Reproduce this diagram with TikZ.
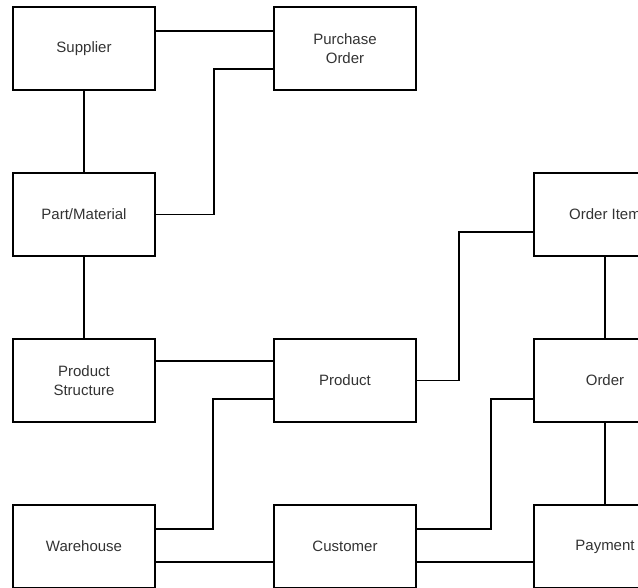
\documentclass[tikz,border=0pt]{standalone}
\usepackage{fontspec}
\setmainfont{Liberation Sans}
\begin{document}
\begin{tikzpicture}[x=1pt,y=-1pt,
  entity/.style={draw=black,line width=1.7pt,minimum width=142pt,minimum height=83pt,
    inner sep=0pt,align=center,text=black!80,font=\fontsize{15}{19}\selectfont},
  link/.style={line width=1.7pt}]
\useasboundingbox[fill=white] (0,0) rectangle (638,588);
% entities
\node[entity] (supplier)  at (84,48.5)   {Supplier};
\node[entity] (po)        at (345,48.5)  {Purchase\\Order};
\node[entity] (part)      at (84,214.5)  {Part/Material};
\node[entity] (orderitem) at (605,214.5) {Order Item};
\node[entity] (pstruct)   at (84,380.5)  {Product\\Structure};
\node[entity] (product)   at (345,380.5) {Product};
\node[entity] (order)     at (605,380.5) {Order};
\node[entity] (warehouse) at (84,546.5)  {Warehouse};
\node[entity] (customer)  at (345,546.5) {Customer};
\node[entity] (payment)   at (605,546.5) {Payment};
% relationships
\draw[link] (supplier.east |- 0,31) -- (po.west |- 0,31);
\draw[link] (supplier) -- (part);
\draw[link] (po.west |- 0,69) -- (214,69) |- (part.east);
\draw[link] (part) -- (pstruct);
\draw[link] (pstruct.east |- 0,361) -- (product.west |- 0,361);
\draw[link] (orderitem.west |- 0,232) -- (459,232) |- (product.east);
\draw[link] (orderitem) -- (order);
\draw[link] (product.west |- 0,399) -- (213,399) |- (warehouse.east |- 0,529);
\draw[link] (order.west |- 0,399) -- (491,399) |- (customer.east |- 0,529);
\draw[link] (order) -- (payment);
\draw[link] (warehouse.east |- 0,562) -- (customer.west |- 0,562);
\draw[link] (customer.east |- 0,562) -- (payment.west |- 0,562);
\end{tikzpicture}
\end{document}
